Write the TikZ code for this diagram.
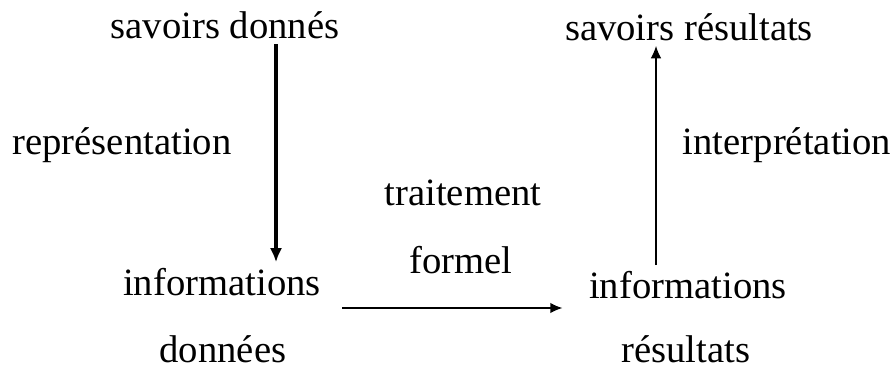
\documentclass[tikz,border=0pt]{standalone}
\usepackage{fontspec}
\setmainfont{Liberation Serif}
\usepackage{tikz}
\usetikzlibrary{arrows.meta}

\begin{document}
\begin{tikzpicture}[x=0.02cm, y=-0.02cm,
    mot/.style={anchor=base, inner sep=3pt, font=\fontsize{22}{26}\selectfont},
    fleche/.style={-{Latex[length=7pt,width=6pt]}, line width=0.7pt}]
    \useasboundingbox (0,0) rectangle (894,369);
    % les quatre savoirs / informations
    \node[mot] (sd) at (225,38) {savoirs donnés};
    \node[mot] (sr) at (689,40) {savoirs résultats};
    \node[mot] (infoG) at (222,295) {informations};
    \node[mot, inner sep=1pt] (donG) at (223,362) {données};
    \node[mot] (infoD) at (688,298) {informations};
    \node[mot, inner sep=1pt] (resD) at (686,362) {résultats};
    % les etiquettes des fleches
    \node[mot] (repr) at (122,154) {représentation};
    \node[mot] (interp) at (787,154) {interprétation};
    \node[mot] (trait) at (463,205) {traitement};
    \node[mot] (form) at (461,273) {formel};
    \coordinate (colG) at (276,0);
    \coordinate (colD) at (656,0);
    \coordinate (ligneH) at (0,308);
    \draw[fleche, line width=2pt, -{Latex[length=8pt,width=7pt]}] (sd.south -| colG) -- (infoG.north -| colG);
    \draw[fleche, line width=0.6pt] (infoD.north -| colD) -- (sr.south -| colD);
    \draw[fleche, line width=1pt, shorten <=0.32cm, shorten >=0.42cm] (infoG.east |- ligneH) -- (infoD.west |- ligneH);
\end{tikzpicture}
\end{document}
